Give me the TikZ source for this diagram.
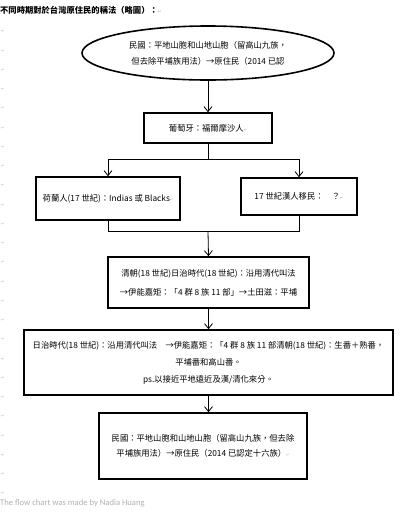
\documentclass[tikz,border=0pt]{standalone}
\usepackage{fontspec}
\setmainfont{Noto Sans CJK TC}
\newfontfamily\dvs{DejaVu Sans}
\newfontfamily\carl{Carlito}
\usetikzlibrary{arrows.meta,shapes.geometric}
\newcommand{\parmark}{{\color{gray!60}\dvs\fontsize{4}{4}\selectfont ↵}}
\tikzset{
  box/.style={draw=black,line width=1.6pt,fill=white,inner sep=0pt,align=center,font=\fontsize{8.3}{10}\selectfont},
  conn/.style={draw=black,line width=0.8pt},
  arr/.style={conn,-{Straight Barb[length=5pt,width=8pt,line width=0.8pt]}},
  pmk/.style={inner sep=0pt,anchor=west}
}
\begin{document}
\begin{tikzpicture}[x=1pt,y=-1pt]
\useasboundingbox[fill=white] (0,0) rectangle (410,520);
% title
\node[anchor=west,inner sep=0pt,font=\bfseries\fontsize{8.3}{10}\selectfont] (title) at (0,10) {不同時期對於台灣原住民的稱法（略圖）：\parmark};
% margin paragraph marks
\foreach \i in {0,...,24} \node[pmk] (m\i) at (1,{31.7+19.25*\i}) {\parmark};
% ellipse
\node[draw=black,line width=1.6pt,ellipse,minimum width=252pt,minimum height=54pt,inner sep=0pt,align=center,font=\fontsize{8.3}{16}\selectfont] (ell) at (208,53)
  {\raisebox{0pt}{民國：平地山胞和山地山胞（留高山九族，}\\但去除平埔族用法）→原住民（2014 已認};
% box 2
\node[box,minimum width=128pt,minimum height=30pt] (b2) at (208,128) {葡萄牙：福爾摩沙人\parmark};
% left and right boxes
\node[box,minimum width=144pt,minimum height=43pt] (bl) at (108,198.5) {荷蘭人(17 世紀)：Indias 或 Blacks\parmark};
\node[box,minimum width=116pt,minimum height=37pt] (brt) at (299,196.5) {17 世紀漢人移民：\quad ？\parmark};
% box 4
\node[box,minimum width=201pt,minimum height=51pt] (b4) at (208.5,282.5)
  {清朝(18 世紀)日治時代(18 世紀)：沿用清代叫法\\[9pt]→伊能嘉矩：「4 群 8 族 11 部」→土田滋：平埔};
% box 5
\node[box,minimum width=369pt,minimum height=65pt] (b5) at (208.5,362.5)
  {日治時代(18 世紀)：沿用清代叫法\quad →伊能嘉矩：「4 群 8 族 11 部清朝(18 世紀)：生番＋熟番，\\[7pt]平埔番和高山番。\\[7pt]ps.以接近平地遠近及漢/清化來分。};
% box 6
\node[box,minimum width=208pt,minimum height=66pt] (b6) at (203,446)
  {民國：平地山胞和山地山胞（留高山九族，但去除\\[5pt]平埔族用法）→原住民（2014 已認定十六族）\parmark};
% footer
\node[anchor=west,inner sep=0pt,text=gray!60,font=\carl\fontsize{8.6}{10}\selectfont] (foot) at (0,503) {The flow chart was made by Nadia Huang};
% connectors
\coordinate (br) at (208,159);
\coordinate (mg) at (208,231);
\draw[arr] (ell.south) -- (b2.north);
\draw[conn] (b2.south) -- (br);
\draw[arr] (br) -| (bl.north);
\draw[arr] (br) -| (brt.north);
\draw[conn] (bl.south) |- (mg);
\draw[conn] (brt.south) |- (mg);
\draw[arr] (mg) -- (b4.north);
\draw[arr] (b4.south) -- (b4.south |- b5.north);
\draw[arr] (b5.south) -- (b5.south |- b6.north);
\end{tikzpicture}
\end{document}
